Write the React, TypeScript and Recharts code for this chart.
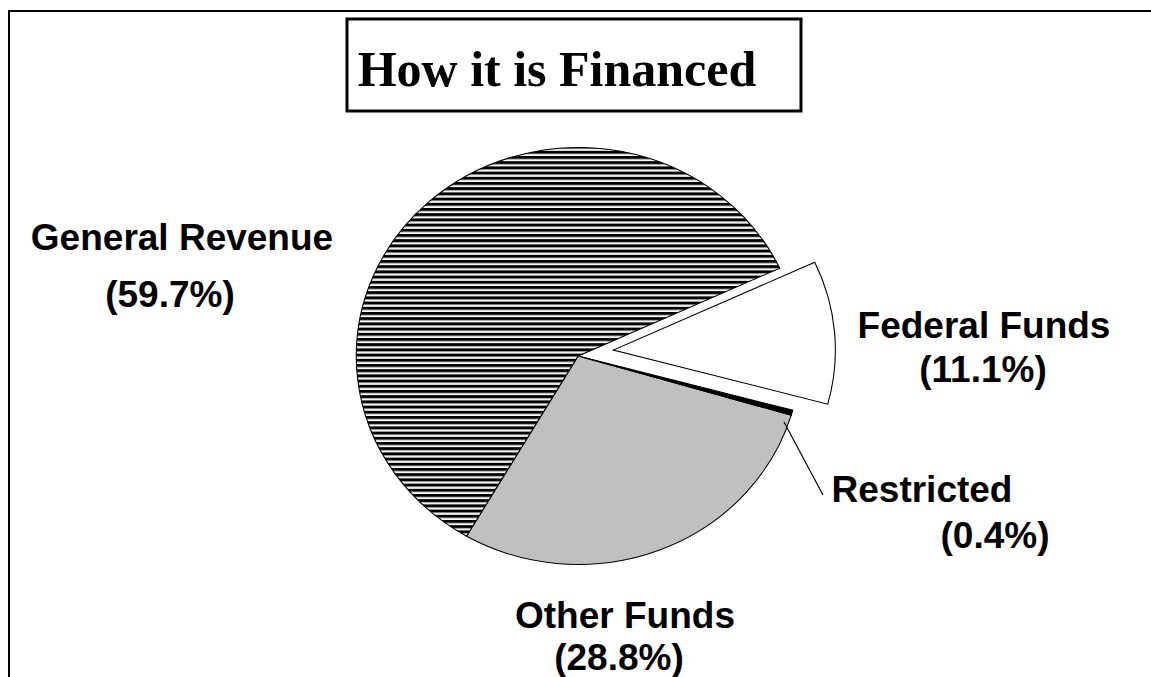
import React from 'react'
import { PieChart, Pie, Cell } from 'recharts'

// slices, counter-clockwise from the top-right edge of General Revenue
const categories = ['General Revenue', 'Other Funds', 'Restricted', 'Federal Funds']
const shares = [59.7, 28.8, 0.4, 11.1]
const fills = ['url(#hatch)', '#c0c0c0', '#000000', '#ffffff']
const explodedName = 'Federal Funds'

const title = 'How it is Financed'

// where each two-line label sits (centre x, baselines)
const labelSpots = [
	{ x1: 182, y1: 250, x2: 170, y2: 307 },
	{ x1: 625, y1: 628, x2: 619, y2: 670 },
	{ x1: 922, y1: 502, x2: 995, y2: 548 },
	{ x1: 984, y1: 338, x2: 983, y2: 382 },
]

const data = categories.map((name, i) => ({ name, value: shares[i] }))

const W = 1151
const H = 677
const CX = 573
const CY = 351
const R = 208.5
const SX = 1.065 // the pie is a bit wider than tall
const START = 24.9

const sans = "'Liberation Sans', Arial, sans-serif"
const serif = "'Liberation Serif', 'Times New Roman', serif"

export default function App() {
	return (
		<div style={{ position: 'absolute', left: 0, top: 0, width: W, height: H, background: '#fff', overflow: 'hidden' }}>
			<div style={{ position: 'absolute', left: 0, top: 0, transform: `scaleX(${SX})`, transformOrigin: `${CX}px ${CY}px` }}>
				<PieChart width={W} height={H}>
					<defs>
						<pattern id="hatch" patternUnits="userSpaceOnUse" width={8} height={5.2}>
							<rect x={0} y={0} width={8} height={5.2} fill="#fff" />
							<rect x={0} y={0} width={8} height={2.8} fill="#000" />
							<rect x={0} y={2.8} width={8} height={0.8} fill="#808080" />
						</pattern>
					</defs>
					<Pie
						data={data}
						dataKey="value"
						nameKey="name"
						cx={CX}
						cy={CY}
						outerRadius={R}
						startAngle={START}
						endAngle={START + 360}
						stroke="#000"
						strokeWidth={1}
						isAnimationActive={false}
					>
						{data.map((d, i) => (
							d.name === explodedName
								? <Cell key={d.name} fill="none" stroke="none" />
								: <Cell key={d.name} fill={fills[i]} />
						))}
					</Pie>
					<Pie
						data={data}
						dataKey="value"
						nameKey="name"
						cx={CX + 35 / SX}
						cy={CY - 6}
						outerRadius={R}
						startAngle={START}
						endAngle={START + 360}
						stroke="#000"
						strokeWidth={1}
						isAnimationActive={false}
					>
						{data.map((d, i) => (
							d.name === explodedName
								? <Cell key={d.name} fill={fills[i]} />
								: <Cell key={d.name} fill="none" stroke="none" />
						))}
					</Pie>
				</PieChart>
			</div>
			<svg width={W} height={H} style={{ position: 'absolute', left: 0, top: 0, pointerEvents: 'none' }}>
				<rect x={9} y={11} width={1160} height={700} fill="none" stroke="#000" strokeWidth={2} />
				<rect x={347} y={19} width={454} height={92} fill="#fff" stroke="#000" strokeWidth={3} />
				<text x={557} y={86} textAnchor="middle" fontFamily={serif} fontWeight="bold" fontSize={50}>{title}</text>
				<line x1={784} y1={422} x2={823} y2={495} stroke="#000" strokeWidth={1.2} />
				{data.map((d, i) => (
					<g key={d.name} fontFamily={sans} fontWeight="bold" fontSize={37} textAnchor="middle" fill="#000">
						<text x={labelSpots[i].x1} y={labelSpots[i].y1}>{d.name}</text>
						<text x={labelSpots[i].x2} y={labelSpots[i].y2}>({d.value}%)</text>
					</g>
				))}
			</svg>
		</div>
	)
}
